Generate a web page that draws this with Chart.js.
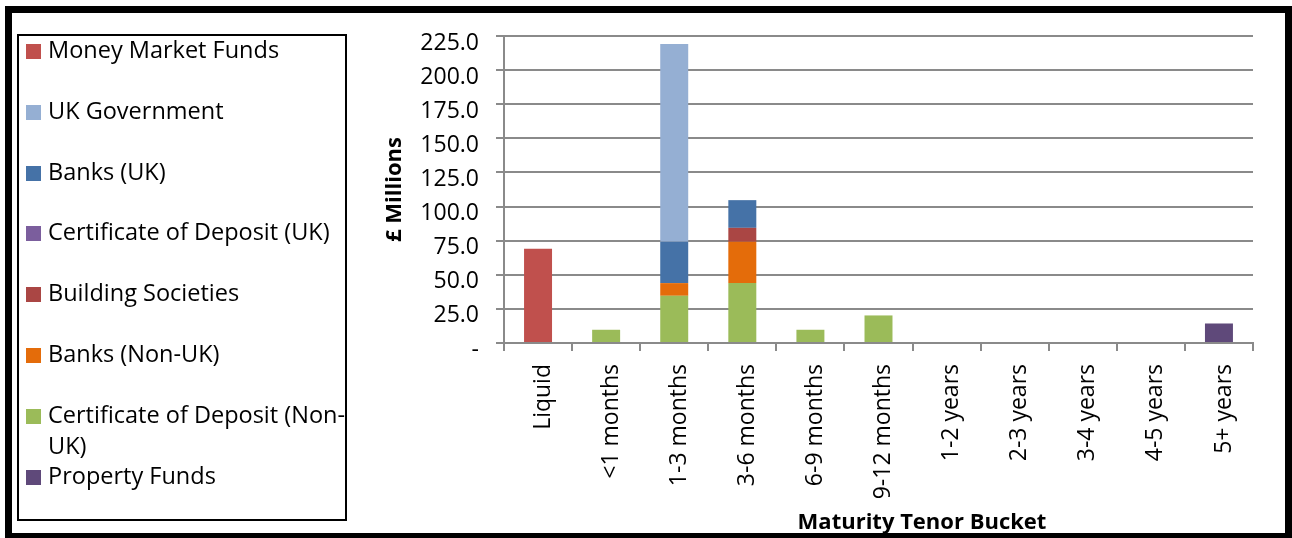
<!DOCTYPE html>
<html>
<head>
<meta charset="utf-8">
<title>Investments by Maturity Tenor Bucket</title>
<script src="https://cdn.jsdelivr.net/npm/chart.js@4.4.1/dist/chart.umd.min.js"></script>
<style>
  html, body { margin: 0; padding: 0; background: #fff; }
  body { width: 1292px; height: 538px; position: relative; overflow: hidden; font-family: 'Open Sans', sans-serif; }
  #chart { position: absolute; left: 0; top: 0; }
  #frame { position: absolute; left: 5px; top: 6px; width: 1287px; height: 534px; border: 7px solid #000; box-sizing: border-box; pointer-events: none; }
  #legend { position: absolute; left: 17px; top: 34px; width: 330px; height: 487px; border: 2px solid #000; box-sizing: border-box; background: #fff; }
  #legend .swatch { position: absolute; left: 7px; width: 15px; height: 15px; }
  #legend .label { position: absolute; left: 29px; width: 300px; font-size: 23.5px; line-height: 31px; color: #000; white-space: normal; }
  #xtitle { position: absolute; top: 507px; left: 922px; transform: translateX(-50%); font-size: 22px; font-weight: bold; line-height: 26px; color: #000; white-space: nowrap; }
</style>
</head>
<body>
<canvas id="chart" width="1292" height="538"></canvas>
<div id="legend"></div>
<div id="xtitle"></div>
<div id="frame"></div>
<script>
// Maturity buckets along the x axis
const categories = ['Liquid', '<1 months', '1-3 months', '3-6 months', '6-9 months', '9-12 months',
  '1-2 years', '2-3 years', '3-4 years', '4-5 years', '5+ years'];

// Holdings per counterparty type, £ millions, one value per bucket
const propertyFunds     = [0, 0, 0, 0, 0, 0, 0, 0, 0, 0, 14.3];
const cdNonUK           = [0, 9.7, 34.6, 43.9, 9.7, 20.2, 0, 0, 0, 0, 0];
const banksNonUK        = [0, 0, 9.3, 30.3, 0, 0, 0, 0, 0, 0, 0];
const buildingSocieties = [0, 0, 0, 10.2, 0, 0, 0, 0, 0, 0, 0];
const cdUK              = [0, 0, 0, 0, 0, 0, 0, 0, 0, 0, 0];
const banksUK           = [0, 0, 30.3, 20.3, 0, 0, 0, 0, 0, 0, 0];
const ukGovernment      = [0, 0, 144.9, 0, 0, 0, 0, 0, 0, 0, 0];
const moneyMarketFunds  = [69, 0, 0, 0, 0, 0, 0, 0, 0, 0, 0];

// Y axis range and labels
const yMin = 0;
const yMax = 225;
const yStep = 25;
const yTitle = '£ Millions';
const xTitle = 'Maturity Tenor Bucket';

// Series, bottom of the stack first
const series = [
  { label: 'Property Funds',                  data: propertyFunds,     color: '#5F497A' },
  { label: 'Certificate of Deposit (Non-UK)', data: cdNonUK,           color: '#9BBB59' },
  { label: 'Banks (Non-UK)',                  data: banksNonUK,        color: '#E46C0A' },
  { label: 'Building Societies',              data: buildingSocieties, color: '#AA4644' },
  { label: 'Certificate of Deposit (UK)',     data: cdUK,              color: '#7B5E9D' },
  { label: 'Banks (UK)',                      data: banksUK,           color: '#4572A7' },
  { label: 'UK Government',                   data: ukGovernment,      color: '#95AFD3' },
  { label: 'Money Market Funds',              data: moneyMarketFunds,  color: '#C0504D' }
];

const FONT = "'Open Sans', sans-serif";
const GRID = '#8A8A8A';

// Legend box: top of the stack listed first, fixed row pitch
const legendEl = document.getElementById('legend');
const ROW = 60.8;
series.slice().reverse().forEach((s, i) => {
  const sw = document.createElement('div');
  sw.className = 'swatch';
  sw.style.top = (8 + i * ROW) + 'px';
  sw.style.background = s.color;
  const lb = document.createElement('div');
  lb.className = 'label';
  lb.style.top = (-2 + i * ROW) + 'px';
  lb.textContent = s.label;
  legendEl.appendChild(sw);
  legendEl.appendChild(lb);
});
document.getElementById('xtitle').textContent = xTitle;

new Chart(document.getElementById('chart').getContext('2d'), {
  type: 'bar',
  data: {
    labels: categories,
    datasets: series.map(s => ({
      label: s.label,
      data: s.data,
      backgroundColor: s.color,
      borderWidth: 0,
      barPercentage: 0.411,
      categoryPercentage: 1
    }))
  },
  options: {
    responsive: false,
    animation: false,
    layout: { padding: { left: 370, top: 36, right: 39, bottom: 0 } },
    plugins: {
      legend: { display: false },
      tooltip: { enabled: false }
    },
    scales: {
      x: {
        stacked: true,
        grid: { offset: true, drawOnChartArea: false, drawTicks: true, tickLength: 8, color: GRID, lineWidth: 2 },
        border: { color: GRID, width: 2 },
        ticks: {
          autoSkip: false, minRotation: 90, maxRotation: 90, padding: 13, labelOffset: 5,
          color: '#000', font: { family: FONT, size: 23 }
        },
        afterFit(scale) { scale.height = 195; }
      },
      y: {
        stacked: true,
        min: yMin,
        max: yMax,
        grid: { color: GRID, lineWidth: 2, drawTicks: true, tickLength: 8 },
        border: { color: GRID, width: 2 },
        ticks: {
          stepSize: yStep, padding: 17, labelOffset: 7,
          color: '#000', font: { family: FONT, size: 23 },
          callback: v => (v === 0 ? '-' : Number(v).toFixed(1))
        },
        title: {
          display: true, text: yTitle, color: '#000',
          font: { family: FONT, size: 22, weight: 'bold' },
          padding: { top: 12, bottom: 0 }
        },
        afterFit(scale) { scale.width = 134; }
      }
    }
  }
});
</script>
</body>
</html>
